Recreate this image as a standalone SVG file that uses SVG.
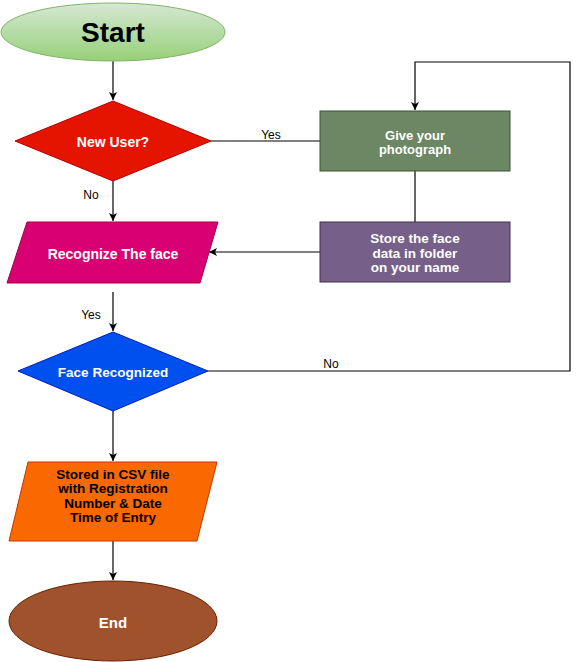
<svg xmlns="http://www.w3.org/2000/svg" width="579" height="662" viewBox="0 0 579 662">
<defs>
<linearGradient id="gGreen" x1="0" y1="0" x2="0" y2="1">
<stop offset="0" stop-color="#d5e8d4"/>
<stop offset="1" stop-color="#97d077"/>
</linearGradient>
<marker id="arr" markerWidth="10" markerHeight="10" viewBox="0 0 10 10" refX="9" refY="5" orient="auto" markerUnits="userSpaceOnUse">
<path d="M1,1 L9,5 L1,9 L3,5 Z" fill="#000"/>
</marker>
</defs>
<style>
.t{font-family:"Liberation Sans",Arial,sans-serif;font-weight:bold;text-anchor:middle}
.w{fill:#fff}
.l{font-family:"Liberation Sans",Arial,sans-serif;font-size:12px;text-anchor:middle;fill:#000}
.c{fill:none;stroke:#000;stroke-width:1.2}
</style>
<rect width="579" height="662" fill="#fff"/>
<g id="connectors">
<line class="c" x1="113" y1="61" x2="113" y2="100" marker-end="url(#arr)"/>
<line class="c" x1="211" y1="141" x2="320" y2="141"/>
<line class="c" x1="113" y1="181" x2="113" y2="221" marker-end="url(#arr)"/>
<line class="c" x1="415" y1="171" x2="415" y2="222"/>
<line class="c" x1="320" y1="252" x2="209" y2="252" marker-end="url(#arr)"/>
<line class="c" x1="113" y1="292" x2="113" y2="331" marker-end="url(#arr)"/>
<polyline class="c" points="208,371 570,371 570,62 415,62 415,110" marker-end="url(#arr)"/>
<line class="c" x1="113" y1="411" x2="113" y2="461" marker-end="url(#arr)"/>
<line class="c" x1="113" y1="541" x2="113" y2="580" marker-end="url(#arr)"/>
<text class="l" x="271" y="139">Yes</text>
<text class="l" x="91" y="199">No</text>
<text class="l" x="91" y="319">Yes</text>
<text class="l" x="331" y="368">No</text>
</g>
<g id="start">
<ellipse cx="113" cy="32" rx="112" ry="29" fill="url(#gGreen)" stroke="#82b366"/>
<text class="t" x="113" y="41.5" font-size="28">Start</text>
</g>
<g id="newuser">
<polygon points="113,101 211,141 113,181 15,141" fill="#e51400" stroke="#b20000"/>
<text class="t w" x="113" y="147" font-size="14">New User?</text>
</g>
<g id="photo">
<rect x="320" y="111" width="190" height="60" fill="#6d8764" stroke="#3a5431"/>
<text class="t w" x="415" y="139.5" font-size="13">Give your</text>
<text class="t w" x="415" y="154" font-size="13">photograph</text>
</g>
<g id="store">
<rect x="320" y="222" width="190" height="60" fill="#76608a" stroke="#432d57"/>
<text class="t w" x="415" y="243.3" font-size="13.5">Store the face</text>
<text class="t w" x="415" y="257.6" font-size="13.5">data in folder</text>
<text class="t w" x="415" y="272" font-size="13.5">on your name</text>
</g>
<g id="recognize">
<polygon points="27,222 218,222 200,283 7,283" fill="#d80073" stroke="#a50040"/>
<text class="t w" x="113" y="259" font-size="14">Recognize The face</text>
</g>
<g id="facerec">
<polygon points="113,332 208,371 113,411 18,371" fill="#0050ef" stroke="#001dbc"/>
<text class="t w" x="113" y="376.5" font-size="13.5">Face Recognized</text>
</g>
<g id="csv">
<polygon points="28,462 217,462 197,541 9,541" fill="#fa6800" stroke="#c73500"/>
<text class="t" x="113" y="479" font-size="13.5">Stored in CSV file</text>
<text class="t" x="113" y="493.3" font-size="13.5">with Registration</text>
<text class="t" x="113" y="507.6" font-size="13.5">Number &amp; Date</text>
<text class="t" x="113" y="522" font-size="13.5">Time of Entry</text>
</g>
<g id="end">
<ellipse cx="113" cy="621" rx="104" ry="40" fill="#a0522d" stroke="#6d1f00"/>
<text class="t w" x="113" y="627.5" font-size="15">End</text>
</g>
</svg>
